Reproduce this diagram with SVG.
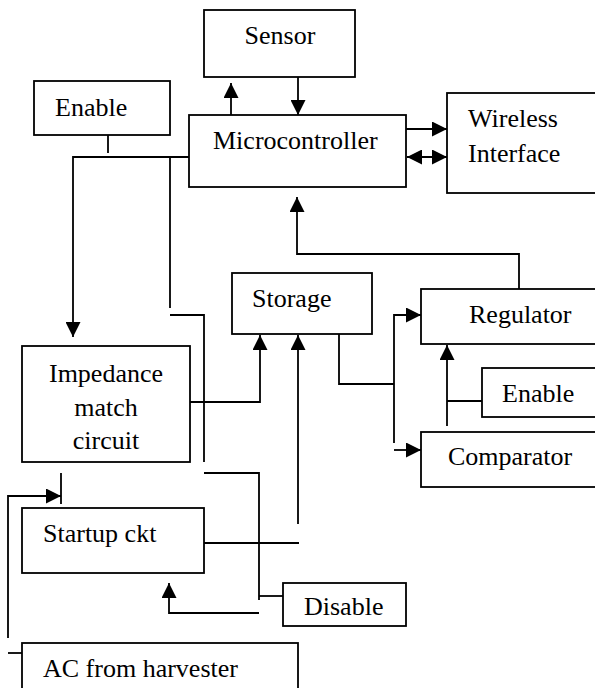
<svg xmlns="http://www.w3.org/2000/svg" width="595" height="688" viewBox="0 0 595 688">
<style>
.box{fill:#fff;stroke:#000;stroke-width:1.8}
.t{font-family:'Liberation Serif','Times New Roman',serif;font-size:26px;fill:#000}
.c{fill:none;stroke:#000;stroke-width:1.8}
.a{marker-end:url(#ah)}
.d{marker-start:url(#ah);marker-end:url(#ah)}
</style>
<defs>
<marker id="ah" markerUnits="userSpaceOnUse" markerWidth="15" markerHeight="15" refX="15" refY="7.5" orient="auto-start-reverse">
<path d="M0,0 L15,7.5 L0,15 z" fill="#000"/>
</marker>
</defs>
<rect width="595" height="688" fill="#fff"/>
<g id="connectors">
<path class="c a" d="M231,115 V83"/>
<path class="c a" d="M298,77 V115"/>
<path class="c a" d="M406,129 H447"/>
<path class="c d" d="M407,157 H447"/>
<path class="c" d="M108,135 V153"/>
<path class="c a" d="M189,157 H73 V337"/>
<path class="c" d="M170,157 V308"/>
<path class="c" d="M170,315 H204 V462"/>
<path class="c" d="M204,473 H259 V600"/>
<path class="c" d="M259,596 H283"/>
<path class="c a" d="M259,613 H169 V583"/>
<path class="c" d="M204,543 H299"/>
<path class="c a" d="M298,524 V335"/>
<path class="c a" d="M190,402 H260 V335"/>
<path class="c" d="M339,334 V384 H394"/>
<path class="c a" d="M394,443 V315 H421"/>
<path class="c a" d="M394,450 H421"/>
<path class="c a" d="M519,289 V254 H297 V197"/>
<path class="c a" d="M447,426 V345"/>
<path class="c" d="M447,401 H482"/>
<path class="c a" d="M8,638 V496 H61"/>
<path class="c" d="M61,473 V504"/>
<path class="c" d="M8,653 H22"/>
</g>
<g id="sensor"><rect class="box" x="204" y="10" width="151" height="67"/><text class="t" x="280" y="44" text-anchor="middle">Sensor</text></g>
<g id="enable-top"><rect class="box" x="34" y="81" width="136" height="54"/><text class="t" x="55" y="116">Enable</text></g>
<g id="microcontroller"><rect class="box" x="189" y="115" width="217" height="72"/><text class="t" x="213" y="149">Microcontroller</text></g>
<g id="wireless"><rect class="box" x="447" y="93" width="152" height="100"/><text class="t" x="468" y="127">Wireless</text><text class="t" x="468" y="162">Interface</text></g>
<g id="storage"><rect class="box" x="232" y="273" width="140" height="61"/><text class="t" x="252" y="307">Storage</text></g>
<g id="regulator"><rect class="box" x="421" y="289" width="178" height="55"/><text class="t" x="469" y="323">Regulator</text></g>
<g id="impedance"><rect class="box" x="22" y="346" width="168" height="116"/><text class="t" x="106" y="382" text-anchor="middle">Impedance</text><text class="t" x="106" y="416" text-anchor="middle">match</text><text class="t" x="106" y="449" text-anchor="middle">circuit</text></g>
<g id="enable-right"><rect class="box" x="482" y="368" width="117" height="49"/><text class="t" x="502" y="402">Enable</text></g>
<g id="comparator"><rect class="box" x="421" y="432" width="178" height="55"/><text class="t" x="448" y="465">Comparator</text></g>
<g id="startup"><rect class="box" x="22" y="508" width="182" height="65"/><text class="t" x="43" y="542">Startup ckt</text></g>
<g id="disable"><rect class="box" x="283" y="583" width="123" height="43"/><text class="t" x="304" y="615">Disable</text></g>
<g id="ac"><rect class="box" x="22" y="643" width="276" height="60"/><text class="t" x="43" y="677">AC from harvester</text></g>
</svg>
